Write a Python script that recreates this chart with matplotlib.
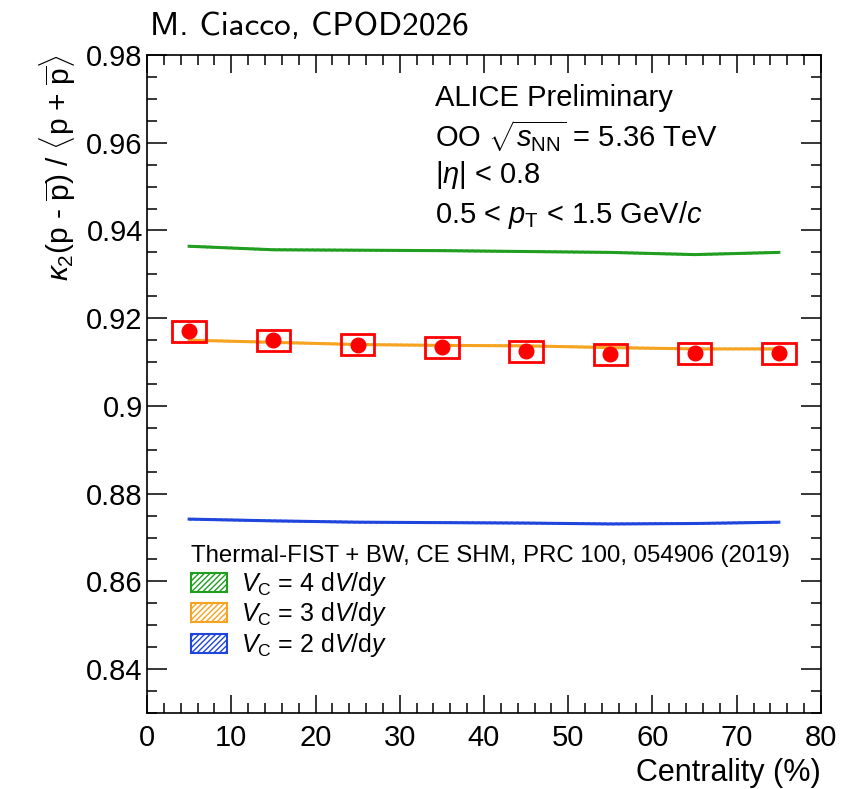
import matplotlib
matplotlib.use("Agg")
import matplotlib.pyplot as plt
from matplotlib.patches import Rectangle, Patch
from matplotlib.ticker import MultipleLocator

plt.rcParams['font.family'] = ['Liberation Sans', 'DejaVu Sans']
plt.rcParams['mathtext.fontset'] = 'custom'
plt.rcParams['mathtext.rm'] = 'Liberation Sans'
plt.rcParams['mathtext.it'] = 'Liberation Sans:italic'
plt.rcParams['mathtext.bf'] = 'Liberation Sans:bold'

# data
centrality = [5, 15, 25, 35, 45, 55, 65, 75]
bin_half = [2, 2, 2, 2, 2, 2, 2, 2]
k2_ratio = [0.9170, 0.9150, 0.9139, 0.9134, 0.9125, 0.9118, 0.9120, 0.9120]
k2_sys = [0.0024, 0.0024, 0.0024, 0.0024, 0.0024, 0.0024, 0.0024, 0.0024]

vc4 = [0.9364, 0.9356, 0.9355, 0.9354, 0.9352, 0.9350, 0.9345, 0.9350]
vc3 = [0.9150, 0.9145, 0.9140, 0.9138, 0.9137, 0.9133, 0.9130, 0.9130]
vc2 = [0.8742, 0.8738, 0.8735, 0.8734, 0.8733, 0.8731, 0.8732, 0.8735]

green = '#1f9e1f'
orange = '#f5a320'
blue = '#1f45dc'
red = '#ff0000'

fig = plt.figure(figsize=(8.46, 7.89), dpi=100)
ax = fig.add_axes([0.1738, 0.0963, 0.7966, 0.834])

for vals, col in [(vc4, green), (vc3, orange), (vc2, blue)]:
    lo = [v - 0.0003 for v in vals]
    hi = [v + 0.0003 for v in vals]
    ax.fill_between(centrality, lo, hi, facecolor='none', edgecolor=col,
                    hatch='//////', linewidth=0, zorder=2)
    ax.plot(centrality, vals, color=col, lw=2.2, zorder=2)

# systematic boxes + points
for x, y, dx, dy in zip(centrality, k2_ratio, bin_half, k2_sys):
    ax.add_patch(Rectangle((x - dx, y - dy), 2 * dx, 2 * dy, fill=False,
                           edgecolor=red, lw=2, zorder=3))
ax.plot(centrality, k2_ratio, 'o', color=red, ms=10.5, zorder=4)

ax.set_xlim(0, 80)
ax.set_ylim(0.83, 0.98)
ax.xaxis.set_major_locator(MultipleLocator(10))
ax.xaxis.set_minor_locator(MultipleLocator(2))
ax.yaxis.set_minor_locator(MultipleLocator(0.005))
ax.tick_params(which='both', direction='in', top=True, right=True, width=1.1,
               labelsize=21)
ax.tick_params(axis='x', which='major', length=13, pad=8)
ax.tick_params(axis='x', which='minor', length=7)
ax.tick_params(axis='y', which='major', length=14.5, pad=3)
ax.tick_params(axis='y', which='minor', length=7)
ax.set_yticks([0.84, 0.86, 0.88, 0.90, 0.92, 0.94, 0.96, 0.98])
ax.set_yticklabels(['0.84', '0.86', '0.88', '0.9', '0.92', '0.94', '0.96', '0.98'])
for s in ax.spines.values():
    s.set_linewidth(1.2)

ax.set_xlabel('Centrality (%)', fontsize=22, loc='right', labelpad=4)
ax.set_ylabel(r'$\kappa_{2}$(p - $\overline{\mathrm{p}}$) / $\langle$p + $\overline{\mathrm{p}}\rangle$',
              fontsize=21.5, loc='top', labelpad=6)

tx = 0.427
ax.text(tx, 0.935, 'ALICE Preliminary', transform=ax.transAxes, fontsize=21, va='center')
ax.text(tx, 0.877, r'OO $\sqrt{s_{\mathrm{NN}}}$ = 5.36 TeV', transform=ax.transAxes, fontsize=21, va='center')
ax.text(tx, 0.818, r'|$\eta$| < 0.8', transform=ax.transAxes, fontsize=21, va='center')
ax.text(tx, 0.757, r'0.5 < $p_{\mathrm{T}}$ < 1.5 GeV/$c$', transform=ax.transAxes, fontsize=21, va='center')

handles = [Patch(facecolor='white', edgecolor=green, hatch='//////', lw=1.5),
           Patch(facecolor='white', edgecolor=orange, hatch='//////', lw=1.5),
           Patch(facecolor='white', edgecolor=blue, hatch='//////', lw=1.5)]
labels = [r'$V_{\mathrm{C}}$ = 4 d$V$/d$y$',
          r'$V_{\mathrm{C}}$ = 3 d$V$/d$y$',
          r'$V_{\mathrm{C}}$ = 2 d$V$/d$y$']
leg = ax.legend(handles, labels, loc='upper left', bbox_to_anchor=(0.05, 0.27),
                frameon=False, fontsize=18, handlelength=1.45, handleheight=0.8,
                handletextpad=0.55, labelspacing=0.1, borderaxespad=0,
                title='Thermal-FIST + BW, CE SHM, PRC 100, 054906 (2019)',
                title_fontsize=17.3, alignment='left')

fig.text(0.177, 0.966, 'M. Ciacco, CPOD2026', fontsize=24, family='cmss10',
         va='center', ha='left')

fig.savefig('out.png', dpi=100)
